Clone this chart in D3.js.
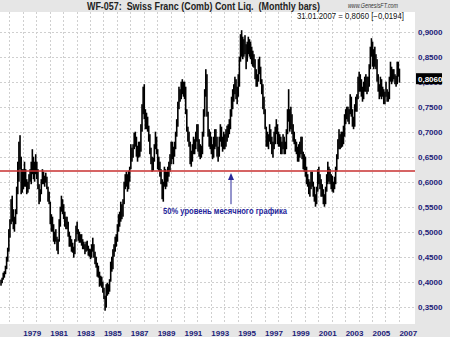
<!DOCTYPE html>
<html><head><meta charset="utf-8">
<script src="https://cdn.jsdelivr.net/npm/d3@7"></script>
<style>html,body{margin:0;padding:0;background:#e6e6e6;} svg{display:block;}</style>
</head><body><svg id="c" width="450" height="337"></svg>
<script>
// ---- data ----
const firstYear = 1977, firstMonthIndex = 4; // May 1977
const highs = [
 .404,.408,.418,.421,.432,.450,.468,.505,
 .525,.565,.572,.545,.530,.545,.590,.640,.680,.693,.650,.625,
 .625,.640,.625,.605,.600,.615,.625,.640,.665,.650,.640,.655,
 .640,.625,.595,.585,.605,.625,.620,.612,.618,.610,.590,.580,
 .560,.535,.530,.515,.500,.505,.490,.485,.525,.550,.572,.565,
 .555,.540,.530,.530,.520,.500,.492,.485,.478,.470,.485,.512,
 .520,.505,.500,.495,.495,.485,.480,.475,.480,.482,.472,.466,
 .465,.475,.488,.475,.460,.450,.438,.432,.420,.412,.410,.400,
 .388,.372,.395,.398,.395,.405,.440,.450,.465,.475,.490,.495,
 .515,.535,.540,.560,.555,.565,.600,.615,.620,.615,.622,.630,
 .675,.668,.675,.698,.700,.690,.672,.680,.680,.715,.755,.790,
 .795,.745,.738,.730,.712,.695,.668,.650,.648,.675,.700,.690,
 .665,.650,.640,.625,.605,.600,.630,.625,.620,.630,.640,.655,
 .680,.680,.670,.680,.700,.725,.760,.790,.785,.800,.805,.800,
 .800,.790,.745,.710,.700,.680,.662,.675,.690,.685,.700,.715,
 .715,.685,.675,.672,.700,.745,.785,.825,.815,.740,.705,.700,
 .690,.675,.690,.705,.705,.690,.670,.690,.715,.710,.690,.700,
 .695,.705,.712,.715,.725,.745,.770,.785,.795,.810,.805,.790,
 .815,.850,.895,.903,.890,.885,.893,.875,.880,.890,.885,.880,
 .870,.862,.855,.845,.825,.815,.845,.850,.830,.805,.795,.770,
 .745,.710,.700,.695,.715,.705,.690,.680,.700,.710,.725,.715,
 .700,.695,.690,.680,.695,.690,.680,.705,.745,.785,.745,.750,
 .735,.715,.700,.685,.680,.670,.675,.680,.690,.690,.660,.655,
 .650,.630,.615,.605,.600,.620,.620,.600,.590,.575,.590,.625,
 .630,.615,.605,.595,.585,.575,.590,.615,.640,.630,.625,.615,
 .612,.600,.610,.630,.655,.685,.705,.695,.700,.700,.712,.735,
 .745,.750,.750,.745,.775,.770,.745,.730,.755,.770,.775,.810,
 .820,.815,.805,.790,.800,.810,.815,.810,.810,.835,.870,.887,
 .880,.865,.870,.855,.845,.815,.795,.810,.805,.790,.785,.780,
 .800,.785,.780,.810,.840,.830,.825,.825,.815,.812,.840,.840,
 .826
];
const lows = [
 .392,.397,.404,.408,.415,.425,.440,.460,
 .488,.515,.520,.505,.500,.515,.535,.575,.600,.625,.575,.578,
 .585,.590,.590,.575,.578,.585,.600,.595,.615,.605,.600,.615,
 .605,.585,.555,.560,.575,.595,.595,.590,.598,.585,.560,.555,
 .515,.500,.500,.480,.475,.480,.462,.455,.480,.510,.540,.535,
 .525,.510,.505,.505,.490,.470,.470,.460,.458,.448,.455,.480,
 .495,.482,.478,.478,.472,.465,.465,.455,.460,.462,.452,.450,
 .445,.448,.460,.448,.435,.428,.410,.408,.390,.392,.388,.378,
 .365,.342,.348,.372,.375,.380,.400,.420,.425,.450,.460,.470,
 .480,.500,.510,.520,.525,.530,.555,.585,.590,.580,.585,.600,
 .625,.640,.648,.665,.670,.650,.640,.648,.650,.660,.700,.735,
 .725,.705,.705,.700,.680,.655,.635,.620,.622,.640,.665,.655,
 .625,.622,.610,.595,.565,.560,.590,.585,.590,.600,.610,.620,
 .635,.645,.635,.650,.665,.690,.710,.745,.760,.765,.775,.770,
 .765,.735,.700,.680,.670,.635,.630,.640,.655,.655,.665,.680,
 .660,.650,.645,.648,.655,.690,.730,.770,.730,.690,.670,.665,
 .655,.645,.648,.665,.670,.650,.640,.650,.680,.670,.660,.665,
 .665,.670,.680,.688,.695,.705,.730,.745,.760,.775,.765,.755,
 .770,.790,.840,.850,.845,.850,.855,.825,.840,.855,.850,.845,
 .835,.830,.828,.805,.790,.790,.800,.815,.795,.775,.745,.735,
 .705,.670,.670,.665,.680,.675,.655,.648,.665,.675,.695,.675,
 .670,.670,.655,.655,.665,.655,.655,.665,.695,.720,.700,.705,
 .695,.680,.675,.660,.655,.640,.640,.648,.655,.645,.625,.620,
 .610,.595,.590,.575,.570,.585,.590,.570,.560,.550,.555,.580,
 .595,.585,.570,.570,.555,.550,.555,.580,.595,.600,.595,.585,
 .580,.578,.585,.595,.620,.645,.665,.665,.668,.670,.675,.690,
 .715,.725,.720,.715,.735,.730,.710,.705,.710,.740,.740,.765,
 .780,.780,.770,.760,.765,.780,.780,.775,.780,.790,.825,.850,
 .830,.825,.830,.825,.800,.780,.765,.770,.765,.770,.755,.755,
 .770,.760,.760,.765,.800,.795,.800,.805,.795,.790,.795,.810,
 .798
];
const yTicks = [0.35,0.40,0.45,0.50,0.55,0.60,0.65,0.70,0.75,0.80,0.85,0.90];
const gridYears = d3.range(1978, 2008);
const labelYears = [1979,1981,1983,1985,1987,1989,1991,1993,1995,1997,1999,2001,2003,2005,2007];
const titleText = "WF-057:  Swiss Franc (Comb) Cont Liq.  (Monthly bars)";
const siteText = "www.GenesisFT.com";
const lastDateText = "31.01.2007";
const lastClose = 0.8060, lastChange = -0.0194;
const fiftyLevel = 0.6215;
const noteText = "50% уровень месячного графика";
const noteYear = 1994.5;

// ---- layout ----
const W = 450, H = 337;
const plot = {l: 0, r: 415, t: 12, b: 324};
const navy = "#1c1c78";
const svg = d3.select("#c");
svg.append("rect").attr("width", W).attr("height", H).attr("fill", "#e6e6e6");
svg.append("rect").attr("x", plot.l).attr("y", plot.t).attr("width", plot.r - plot.l).attr("height", plot.b - plot.t).attr("fill", "#fff");

const x = d3.scaleLinear().domain([1977.3, 2008.2]).range([plot.l, plot.r]);
const y = d3.scaleLinear().domain([0.9, 0.35]).range([31.7, 306.7]);
const comma = v => d3.format(".4f")(v).replace(".", ",");

// grid
const g = svg.append("g").attr("stroke", "#cfcfcf").attr("stroke-dasharray", "2,2").attr("stroke-width", 1);
g.selectAll("line.h").data(yTicks).join("line")
  .attr("x1", plot.l).attr("x2", plot.r)
  .attr("y1", d => Math.round(y(d)) + 0.5).attr("y2", d => Math.round(y(d)) + 0.5);
g.selectAll("line.v").data(gridYears).join("line")
  .attr("y1", plot.t).attr("y2", plot.b)
  .attr("x1", d => Math.round(x(d)) + 0.5).attr("x2", d => Math.round(x(d)) + 0.5);

// right axis labels
const yAxis = d3.axisRight(y).tickValues(yTicks).tickSize(0).tickPadding(3).tickFormat(comma);
const ya = svg.append("g").attr("transform", `translate(${plot.r},0)`).call(yAxis);
ya.select(".domain").remove();
ya.selectAll("text").attr("fill", navy).attr("font-family", "Liberation Sans, Arial, sans-serif")
  .attr("font-size", 8).attr("font-weight", "bold");

// bottom axis labels
const xAxis = d3.axisBottom(x).tickValues(labelYears).tickSize(0).tickPadding(6).tickFormat(d3.format("d"));
const xa = svg.append("g").attr("transform", `translate(0,${plot.b})`).call(xAxis);
xa.select(".domain").remove();
xa.selectAll("text").attr("fill", navy).attr("font-family", "Liberation Sans, Arial, sans-serif")
  .attr("font-size", 8).attr("font-weight", "bold").attr("text-anchor", "start").attr("dx", 0);

// bars
const bars = highs.map((h, i) => ({t: firstYear + (firstMonthIndex + i + 0.5) / 12, h, l: lows[i]}));
svg.append("g").selectAll("rect").data(bars).join("rect")
  .attr("x", d => x(d.t) - 0.8).attr("width", 1.6)
  .attr("y", d => y(d.h)).attr("height", d => Math.max(1, y(d.l) - y(d.h)))
  .attr("fill", "#000");

// 50% level line
svg.append("line").attr("x1", plot.l).attr("x2", plot.r)
  .attr("y1", y(fiftyLevel)).attr("y2", y(fiftyLevel))
  .attr("stroke", "#c83030").attr("stroke-width", 1.5);

// arrow + note
const ax = x(noteYear);
svg.append("line").attr("x1", ax).attr("x2", ax).attr("y1", y(fiftyLevel) + 8).attr("y2", y(0.555))
  .attr("stroke", "#2a2a9a").attr("stroke-width", 1);
svg.append("path")
  .attr("d", `M${ax},${y(fiftyLevel) + 2} L${ax - 3},${y(fiftyLevel) + 9} L${ax + 3},${y(fiftyLevel) + 9} Z`)
  .attr("fill", "#2a2a9a");
svg.append("text").attr("x", 163).attr("y", y(0.536))
  .attr("font-family", "Liberation Sans, Arial, sans-serif").attr("font-size", 8.5).attr("font-weight", "bold")
  .attr("fill", "#24249a").attr("textLength", 124).attr("lengthAdjust", "spacingAndGlyphs")
  .text(noteText);

// title
svg.append("text").attr("x", 87).attr("y", 10)
  .attr("font-family", "Liberation Sans, Arial, sans-serif").attr("font-size", 10).attr("font-weight", "bold")
  .attr("fill", "#222").style("white-space", "pre")
  .attr("textLength", 233).attr("lengthAdjust", "spacingAndGlyphs")
  .text(titleText);
svg.append("text").attr("x", 348).attr("y", 7.5)
  .attr("font-family", "Liberation Sans, Arial, sans-serif").attr("font-size", 6.5).attr("font-style", "italic")
  .attr("fill", "#333").attr("textLength", 50).attr("lengthAdjust", "spacingAndGlyphs")
  .text(siteText);
svg.append("text").attr("x", 297).attr("y", 18.5)
  .attr("font-family", "Liberation Sans, Arial, sans-serif").attr("font-size", 8.5)
  .attr("fill", "#111").attr("textLength", 107).attr("lengthAdjust", "spacingAndGlyphs")
  .text(`${lastDateText} = ${comma(lastClose)} [${comma(lastChange)}]`);

// last value box
const ly = y(lastClose);
svg.append("rect").attr("x", plot.r + 1).attr("y", ly - 5.5).attr("width", 26).attr("height", 11).attr("fill", "#000");
svg.append("text").attr("x", plot.r + 3).attr("y", ly + 3)
  .attr("font-family", "Liberation Sans, Arial, sans-serif").attr("font-size", 8).attr("font-weight", "bold")
  .attr("fill", "#fff").text(comma(lastClose));
</script></body></html>
